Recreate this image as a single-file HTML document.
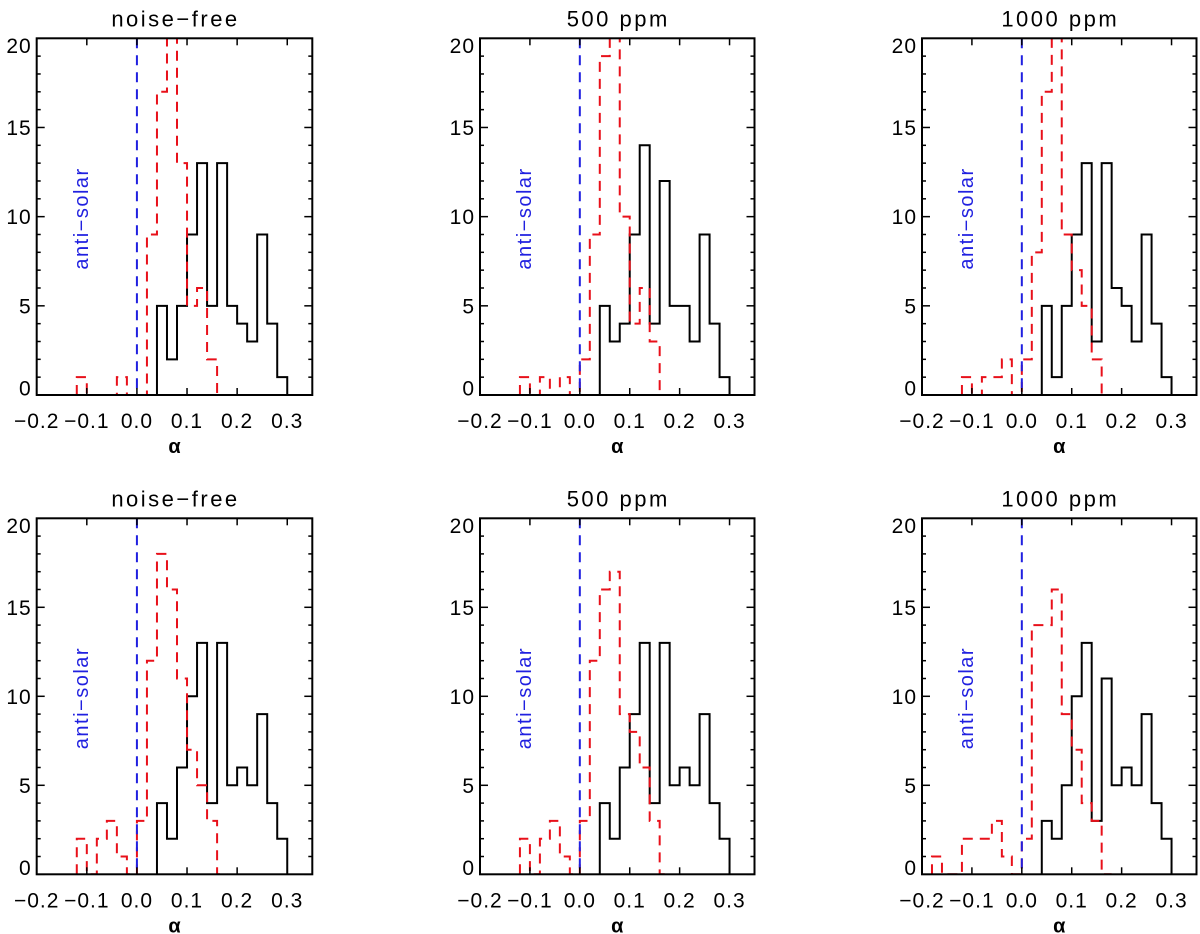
<!DOCTYPE html>
<html><head><meta charset="utf-8">
<style>
html,body{margin:0;padding:0;background:#fff;}
svg{display:block;font-family:"Liberation Sans",sans-serif;}
</style></head>
<body>
<svg id="chart" width="1200" height="934" viewBox="0 0 1200 934" xmlns="http://www.w3.org/2000/svg"></svg>
<script>
const binStart = -0.20;
const binWidth = 0.02;
const xTicks = [-0.2, -0.1, 0.0, 0.1, 0.2, 0.3];
const xTickLabels = ["\u22120.2", "\u22120.1", "0.0", "0.1", "0.2", "0.3"];
const yTicks = [0, 5, 10, 15, 20];
const yTickLabels = ["0", "5", "10", "15", "20"];
const titles = ["noise\u2212free", "500  ppm", "1000  ppm", "noise\u2212free", "500  ppm", "1000  ppm"];

const red1 = [0,0,0,0,1,0,0,0,1,0,0,9,17,22,13,5,6,2,0];
const black1 = [0,0,0,0,0,0,0,0,0,0,0,0,5,2,5,9,13,5,13,5,4,3,9,4,1];
const red2 = [0,0,0,0,1,0,1,0,1,0,2,9,19,22,10,4,6,3,0];
const black2 = [0,0,0,0,0,0,0,0,0,0,0,0,5,3,4,9,14,4,12,5,5,3,9,4,1];
const red3 = [0,0,0,0,1,0,1,1,2,0,2,8,17,22,9,7,5,2,0];
const black3 = [0,0,0,0,0,0,0,0,0,0,0,0,5,1,5,9,13,3,13,6,5,3,9,4,1];
const red4 = [0,0,0,0,2,0,2,3,1,0,3,12,18,16,11,7,5,3,0];
const black4 = [0,0,0,0,0,0,0,0,0,0,0,0,4,2,6,10,13,4,13,5,6,5,9,4,2];
const red5 = [0,0,0,0,2,0,2,3,1,0,3,12,16,17,9,8,6,3,0];
const black5 = [0,0,0,0,0,0,0,0,0,0,0,0,4,2,6,9,13,4,13,5,6,5,9,4,2];
const red6 = [0,1,0,0,2,2,2,3,1,0,2,14,14,16,9,7,4,3,0];
const black6 = [0,0,0,0,0,0,0,0,0,0,0,0,3,2,5,10,13,3,11,5,6,5,9,4,2];

const redSeries = [red1, red2, red3, red4, red5, red6];
const blackSeries = [black1, black2, black3, black4, black5, black6];

const NS = "http://www.w3.org/2000/svg";
const svg = document.getElementById("chart");
const xMin = -0.2, xMax = 0.35, yMin = 0, yMax = 20;
const panels = [
  {l:36.7, r:312.3, t:38.3, b:395},
  {l:480, r:754.5, t:38.3, b:395},
  {l:922, r:1196.5, t:38.3, b:395},
  {l:36.7, r:312.3, t:518.3, b:874.3},
  {l:480, r:754.5, t:518.3, b:874.3},
  {l:922, r:1196.5, t:518.3, b:874.3}
];

function mk(tag, attrs, parent) {
  const e = document.createElementNS(NS, tag);
  for (const k in attrs) e.setAttribute(k, attrs[k]);
  parent.appendChild(e);
  return e;
}

function stepPath(vals, sx, sy) {
  let d = "";
  let started = false;
  for (let i = 0; i < vals.length; i++) {
    const x0 = sx(binStart + i * binWidth), x1 = sx(binStart + (i + 1) * binWidth);
    const v = vals[i];
    if (!started) { if (v === 0) continue; d += "M" + x0 + "," + sy(0); started = true; }
    d += "L" + x0 + "," + sy(v) + "L" + x1 + "," + sy(v);
  }
  if (started) {
    const xe = sx(binStart + vals.length * binWidth);
    d += "L" + xe + "," + sy(0);
  }
  return d;
}

panels.forEach((p, idx) => {
  const g = mk("g", {}, svg);
  
  
  const sx = v => p.l + (v - xMin) / (xMax - xMin) * (p.r - p.l);
  const sy = v => p.b - (v - yMin) / (yMax - yMin) * (p.b - p.t);
  const cx = (p.l + p.r) / 2;

  const clip = mk("clipPath", {id: "clip" + idx}, g);
  mk("rect", {x: p.l, y: p.t, width: p.r - p.l, height: p.b - p.t}, clip);

  const title = mk("text", {x: cx + 1, y: p.t - 12, "text-anchor": "middle", "font-size": "22", "letter-spacing": "2.5", fill: "#000"}, g);
  title.textContent = titles[idx];
  
  

  const bp = mk("path", {d: stepPath(blackSeries[idx], sx, sy), fill: "none", stroke: "#000", "stroke-width": "2", "clip-path": "url(#clip" + idx + ")"}, g);
  
  

  const rp = mk("path", {d: stepPath(redSeries[idx], sx, sy), fill: "none", stroke: "#e8101a", "stroke-width": "2", "stroke-dasharray": "10,7", "clip-path": "url(#clip" + idx + ")"}, g);
  
  

  const bl = mk("line", {x1: sx(0), x2: sx(0), y1: p.t, y2: p.b, stroke: "#2020e0", "stroke-width": "2", "stroke-dasharray": "10,7"}, g);
  
  

  const ax = sx(-0.11), ay = sy(9.9);
  const as = mk("text", {x: ax, y: ay, transform: "rotate(-90 " + ax + " " + ay + ")", "text-anchor": "middle", "dominant-baseline": "central", "font-size": "20", "letter-spacing": "1.5", fill: "#2020e0"}, g);
  as.textContent = "anti\u2212solar";
  
  

  const fr = mk("rect", {x: p.l, y: p.t, width: p.r - p.l, height: p.b - p.t, fill: "none", stroke: "#000", "stroke-width": "2"}, g);
  
  

  xTicks.forEach((v, i) => {
    const x = sx(v);
    mk("line", {x1: x, x2: x, y1: p.b, y2: p.b - 7, stroke: "#000", "stroke-width": "1.5"}, g);
    mk("line", {x1: x, x2: x, y1: p.t, y2: p.t + 7, stroke: "#000", "stroke-width": "1.5"}, g);
    const t = mk("text", {x: x, y: p.b + 33, "text-anchor": "middle", "font-size": "21", "letter-spacing": "1", fill: "#000"}, g);
    t.textContent = xTickLabels[i];
    
    
  });
  for (let v = yMin; v <= yMax; v++) {
    const y = sy(v);
    const len = (v % 5 === 0) ? 8 : 4;
    mk("line", {x1: p.l, x2: p.l + len, y1: y, y2: y, stroke: "#000", "stroke-width": "1.5"}, g);
    mk("line", {x1: p.r, x2: p.r - len, y1: y, y2: y, stroke: "#000", "stroke-width": "1.5"}, g);
  }
  yTicks.forEach((v, i) => {
    let c = sy(v);
    if (v === 20) c = sy(v) + 7;
    if (v === 0) c = sy(v) - 7;
    const t = mk("text", {x: p.l - 5, y: c + 7.5, "text-anchor": "end", "font-size": "21", "letter-spacing": "1", fill: "#000"}, g);
    t.textContent = yTickLabels[i];
    
    
  });

  const xt = mk("text", {x: cx, y: p.b + 58, "text-anchor": "middle", "font-size": "20", "font-weight": "bold", fill: "#000"}, g);
  xt.textContent = "\u03b1";
  
  
});
</script>
</body></html>
